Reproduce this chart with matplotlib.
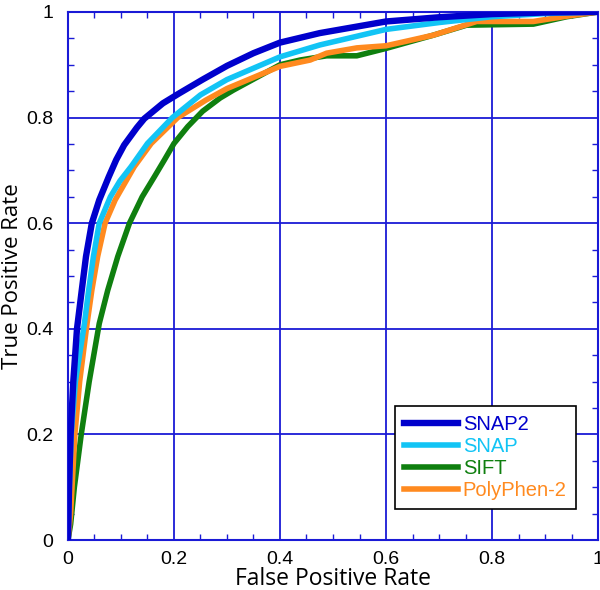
import matplotlib.pyplot as plt
from matplotlib.ticker import MultipleLocator

# ROC curves
snap2_fpr = [0, 0.002, 0.005, 0.010, 0.017, 0.026, 0.034, 0.045, 0.059, 0.077, 0.091, 0.106,
             0.130, 0.144, 0.179, 0.21, 0.254, 0.30, 0.35, 0.4, 0.475, 0.6, 0.7, 0.8, 0.9, 1.0]
snap2_tpr = [0, 0.10, 0.20, 0.30, 0.40, 0.473, 0.537, 0.60, 0.644, 0.688, 0.72, 0.748,
             0.781, 0.798, 0.827, 0.846, 0.872, 0.898, 0.922, 0.942, 0.96, 0.982, 0.99, 0.996, 0.999, 1.0]

snap_fpr = [0, 0.002, 0.006, 0.014, 0.031, 0.039, 0.048, 0.059, 0.080, 0.098, 0.119, 0.150,
            0.197, 0.25, 0.30, 0.4, 0.475, 0.6, 0.7, 0.8, 0.9, 1.0]
snap_tpr = [0, 0.08, 0.20, 0.30, 0.41, 0.473, 0.537, 0.60, 0.65, 0.68, 0.707, 0.751,
            0.80, 0.843, 0.872, 0.915, 0.9375, 0.967, 0.98, 0.991, 0.997, 1.0]

sift_fpr = [0, 0.005, 0.012, 0.025, 0.040, 0.059, 0.075, 0.094, 0.116, 0.140, 0.163, 0.182,
            0.200, 0.226, 0.254, 0.287, 0.312, 0.4, 0.438, 0.488, 0.545, 0.6, 0.689, 0.752,
            0.878, 0.941, 1.0]
sift_tpr = [0, 0.03, 0.10, 0.20, 0.30, 0.41, 0.473, 0.537, 0.60, 0.65, 0.688, 0.72,
            0.751, 0.783, 0.812, 0.837, 0.852, 0.90, 0.909, 0.917, 0.917, 0.931, 0.956, 0.975,
            0.977, 0.991, 1.0]

pp2_fpr = [0, 0.005, 0.013, 0.022, 0.036, 0.045, 0.056, 0.070, 0.089, 0.125, 0.157, 0.207,
           0.26, 0.30, 0.4, 0.457, 0.488, 0.545, 0.6, 0.689, 0.771, 0.878, 0.941, 1.0]
pp2_tpr = [0, 0.05, 0.20, 0.30, 0.41, 0.473, 0.537, 0.60, 0.644, 0.707, 0.751, 0.80,
           0.833, 0.855, 0.897, 0.909, 0.922, 0.932, 0.936, 0.956, 0.982, 0.982, 0.992, 1.0]

tick_vals = [0, 0.2, 0.4, 0.6, 0.8, 1.0]
tick_text = ['0', '0.2', '0.4', '0.6', '0.8', '1']

BLUE = '#1a1ad6'

fig = plt.figure(figsize=(6, 5.9), dpi=100)
ax = fig.add_axes([0.1133, 0.0847, 0.8834, 0.895])

ax.plot(sift_fpr, sift_tpr, color='#0f7f0f', lw=4, label='SIFT', zorder=3)
ax.plot(pp2_fpr, pp2_tpr, color='#ff8a1f', lw=4, label='PolyPhen-2', zorder=4)
ax.plot(snap_fpr, snap_tpr, color='#12c4f5', lw=4, label='SNAP', zorder=5)
ax.plot(snap2_fpr, snap2_tpr, color='#0000cc', lw=4.6, label='SNAP2', zorder=6)

ax.set_xlim(0, 1)
ax.set_ylim(0, 1)
ax.set_xticks(tick_vals)
ax.set_yticks(tick_vals)
ax.set_xticklabels(tick_text, family='Liberation Sans', fontsize=14)
ax.set_yticklabels(tick_text, family='Liberation Sans', fontsize=14)
ax.xaxis.set_minor_locator(MultipleLocator(0.05))
ax.yaxis.set_minor_locator(MultipleLocator(0.05))
ax.tick_params(which='both', direction='in', top=True, right=True, color=BLUE)
ax.tick_params(which='major', length=0)
ax.tick_params(axis='x', which='major', pad=8)
ax.tick_params(axis='y', which='major', pad=10.5)
ax.tick_params(which='minor', length=4, width=1)
ax.grid(True, which='major', color=BLUE, lw=1.3)
for s in ax.spines.values():
    s.set_color(BLUE)
    s.set_linewidth(1.5)

ax.set_xlabel('False Positive Rate', family='Open Sans', fontsize=16.5, labelpad=-1)
ax.set_ylabel('True Positive Rate', family='Open Sans', fontsize=16, labelpad=2)

handles, labels = ax.get_legend_handles_labels()
order = [3, 2, 0, 1]
leg = ax.legend([handles[i] for i in order], [labels[i] for i in order],
                loc='lower right', bbox_to_anchor=(0.958, 0.059),
                prop={'family': 'Liberation Sans', 'size': 14.5},
                fancybox=False, edgecolor='black', framealpha=1,
                handlelength=2.65, handletextpad=0.25, labelspacing=0.14,
                borderpad=0.45, borderaxespad=0)
leg.get_frame().set_linewidth(1.2)
for txt, ln in zip(leg.get_texts(), leg.get_lines()):
    txt.set_color(ln.get_color())
leg.set_zorder(10)

plt.savefig('out.png', dpi=100)
